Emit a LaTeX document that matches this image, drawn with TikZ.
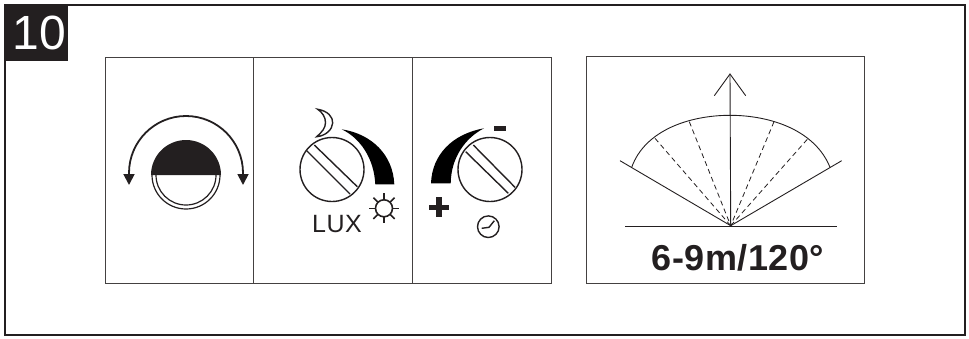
\documentclass[tikz,border=0pt]{standalone}
\usepackage{fontspec}
\setmainfont{Liberation Sans}
\usetikzlibrary{arrows.meta}
\definecolor{inkdark}{HTML}{231F20}
\tikzset{
  framebox/.style={draw=inkdark!85, line width=0.9pt},
  knobline/.style={draw=inkdark, line width=1.4pt},
  thinline/.style={draw=inkdark, line width=0.9pt},
  rayline/.style={draw=inkdark, dash pattern=on 5pt off 3.5pt, line width=0.8pt}
}
\begin{document}
\begin{tikzpicture}[x=1pt,y=-1pt]
  \useasboundingbox (0,0) rectangle (969,338);
  % outer frame and number tab
  \draw[draw=inkdark, line width=2pt] (5.3,5) rectangle (965,335);
  \fill[inkdark] (4,4) rectangle (68,61);
  \node[text=white, font=\fontsize{48}{48}\selectfont, inner sep=0pt] (tabnum) at (39.5,32.5) {10};
  % panels
  \draw[framebox] (105.3,57) rectangle (551.3,283.3);
  \draw[framebox] (253,57)--(253,283.3);
  \draw[framebox] (412,57)--(412,283.3);
  \draw[framebox] (586,56) rectangle (864.7,283.3);
  % lens with turning arrow
  \fill[inkdark] (151,175) arc (180:360:35) -- cycle;
  \draw[knobline, line width=1.2pt] (152,175) arc (180:0:34);
  \draw[knobline, line width=1.2pt] (156,175) arc (180:0:30);
  \draw[knobline, line width=1.8pt, {Triangle[length=11pt,width=11pt]}-{Triangle[length=11pt,width=11pt]}] (129,185)--(129,173) arc (180:360:57)--(243,185);
  % lux knob
  \draw[knobline] (332,169.5) circle (32);
  \draw[knobline] (306.7,150.7)--(350,194);
  \draw[knobline] (314.3,145)--(357.3,186.7);
  \draw[knobline, line join=miter] (317.7,109.3) .. controls (328,111) and (333,117) .. (332.7,123) .. controls (332.4,130) and (325,136) .. (316.7,136.7) .. controls (322,132) and (325.5,128) .. (325.5,122.5) .. controls (325.5,117) and (322,112) .. (317.7,109.3) -- cycle;
  \fill[black] (341.7,129.3) .. controls (372,134) and (393,155) .. (394.3,184.3)--(375.3,184.3) .. controls (374,158) and (360,138) .. (341.7,129.3)--cycle;
  \foreach \ang in {0,45,...,315} {
    \draw[knobline, line width=1.6pt] (384,208.3)++(\ang:8.5)--++(\ang:6.5);
  }
  \draw[knobline, line width=1.6pt] (384,208.3) circle (8.5);
  \node[text=inkdark, font=\fontsize{25}{25}\selectfont\addfontfeature{LetterSpace=2}, inner sep=0pt] (luxtext) at (337,224) {LUX};
  % time knob
  \draw[knobline] (490,169.5) circle (32);
  \draw[knobline] (465.7,151.7)--(508.3,193.3);
  \draw[knobline] (473.3,145)--(515,187.3);
  \fill[black] (484,128.3) .. controls (452,134) and (432,155) .. (431,183.3)--(450.7,183.3) .. controls (451,158) and (465,138) .. (484,128.3)--cycle;
  \fill[inkdark] (494.3,126) rectangle (506.3,131);
  \fill[inkdark] (428.7,204.5) rectangle (448.7,210);
  \fill[inkdark] (436,197.3) rectangle (441.5,217.3);
  \draw[knobline] (488.3,226.7) circle (10.8);
  \draw[knobline] (481.7,228.3)--(489,227.3)--(494.3,220.7);
  % detection field
  \coordinate (apex) at (730.7,225.7);
  \coordinate (axistop) at (730,74);
  \draw[thinline] (625,226)--(837.3,226);
  \draw[thinline] (apex)--(axistop);
  \draw[thinline] (714.3,95.7)--(axistop)--(745.7,95.7);
  \draw[thinline] (620,160.7)--(apex)--(841.7,160.7);
  \draw[thinline] (631.7,167.3) .. controls (645,130) and (690,115.3) .. (730,115.3) .. controls (770,115.3) and (815,130) .. (830,167.3);
  \foreach \tx/\ty in {655/138.3, 689.3/121.7, 774/121.7, 807.3/139.3} {
    \draw[rayline] (\tx,\ty)--(apex);
  }
  \node[text=inkdark, font=\fontsize{36}{36}\bfseries\selectfont\addfontfeature{LetterSpace=1.5}, inner sep=0pt] (rangetext) at (738,258) {6-9m/120°};
\end{tikzpicture}
\end{document}
